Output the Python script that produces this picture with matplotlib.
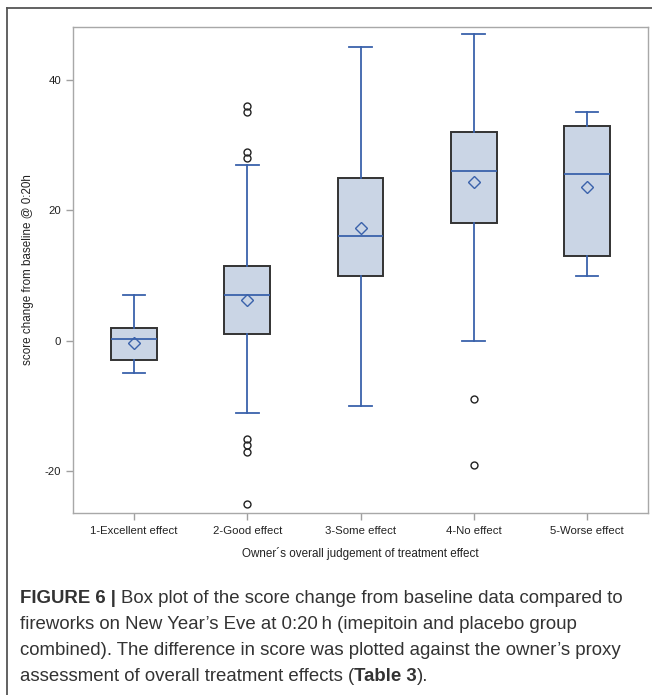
import matplotlib
matplotlib.use("Agg")
import matplotlib.pyplot as plt
from matplotlib.lines import Line2D

categories = ["1-Excellent effect", "2-Good effect", "3-Some effect", "4-No effect", "5-Worse effect"]
q1 = [-3, 1, 10, 18, 13]
medians = [0.3, 7, 16, 26, 25.5]
q3 = [2, 11.5, 25, 32, 33]
whisker_low = [-5, -11, -10, 0, 10]
whisker_high = [7, 27, 45, 47, 35]
means = [-0.3, 6.2, 17.3, 24.3, 23.6]
outliers = [[], [36, 35, 29, 28, -15, -16, -17, -25], [], [-9, -19], []]
yticks = [-20, 0, 20, 40]

BLUE = "#3A62AB"
FILL = "#CAD5E5"
EDGE = "#333333"

plt.rcParams['font.family'] = ['Liberation Sans', 'DejaVu Sans']

fig = plt.figure(figsize=(6.52, 6.95), dpi=100)
ax = fig.add_axes([73/652, 1-513/695, (648-73)/652, (513-27)/695])

stats = []
for i in range(len(categories)):
    stats.append(dict(med=medians[i], q1=q1[i], q3=q3[i], whislo=whisker_low[i],
                      whishi=whisker_high[i], mean=means[i], fliers=outliers[i],
                      label=categories[i]))

ax.bxp(stats, positions=range(1, len(categories)+1), widths=0.405, patch_artist=True,
       showmeans=True, shownotches=False,
       boxprops=dict(facecolor=FILL, edgecolor=EDGE, linewidth=1.4),
       medianprops=dict(color=BLUE, linewidth=1.3),
       whiskerprops=dict(color=BLUE, linewidth=1.3),
       capprops=dict(color=BLUE, linewidth=1.3),
       capwidths=0.2,
       meanprops=dict(marker='D', markerfacecolor='none', markeredgecolor=BLUE,
                      markersize=6.5, markeredgewidth=1.0),
       flierprops=dict(marker='o', markerfacecolor='none', markeredgecolor='#222222',
                       markersize=5, markeredgewidth=1.0))

ax.set_xlim(0.46, 5.54)
ax.set_ylim(-26.4, 48.1)
ax.set_yticks(yticks)
ax.set_yticklabels([str(v) for v in yticks])
for s in ax.spines.values():
    s.set_color("#A8A8A8")
    s.set_linewidth(1.0)
ax.tick_params(axis='both', colors='#A0A0A0', length=5, width=1, labelcolor='#222222', labelsize=8.2)
ax.tick_params(axis='x', pad=4)
ax.set_xlabel("Owner´s overall judgement of treatment effect", fontsize=8.4, color='#222222', labelpad=8)
ax.set_ylabel("score change from baseline @ 0:20h", fontsize=8.4, color='#222222', labelpad=8)

# outer frame lines (left and top)
fig.add_artist(Line2D([7/652, 7/652], [0, 1-8/695], transform=fig.transFigure, color='#555555', lw=1.3))
fig.add_artist(Line2D([7/652, 1], [1-8/695, 1-8/695], transform=fig.transFigure, color='#555555', lw=1.3))

# caption
cap_fs = 13.4
cap_color = '#333333'
x0 = 20/652
lines = [
    [("FIGURE 6 | ", 'bold'), ("Box plot of the score change from baseline data compared to", 'normal')],
    [("fireworks on New Year\u2019s Eve at 0:20\u2009h (imepitoin and placebo group", 'normal')],
    [("combined). The difference in score was plotted against the owner\u2019s proxy", 'normal')],
    [("assessment of overall treatment effects (", 'normal'), ("Table 3", 'bold'), (").", 'normal')],
]
ys = [597, 623, 649, 675]
fig.canvas.draw()
renderer = fig.canvas.get_renderer()
for parts, yp in zip(lines, ys):
    x = x0
    for txt, wt in parts:
        t = fig.text(x, 1-(yp+6)/695, txt, fontsize=cap_fs, fontweight=wt, color=cap_color,
                     ha='left', va='baseline')
        bb = t.get_window_extent(renderer=renderer)
        x = x + bb.width / fig.bbox.width

fig.savefig("out.png", dpi=100)
